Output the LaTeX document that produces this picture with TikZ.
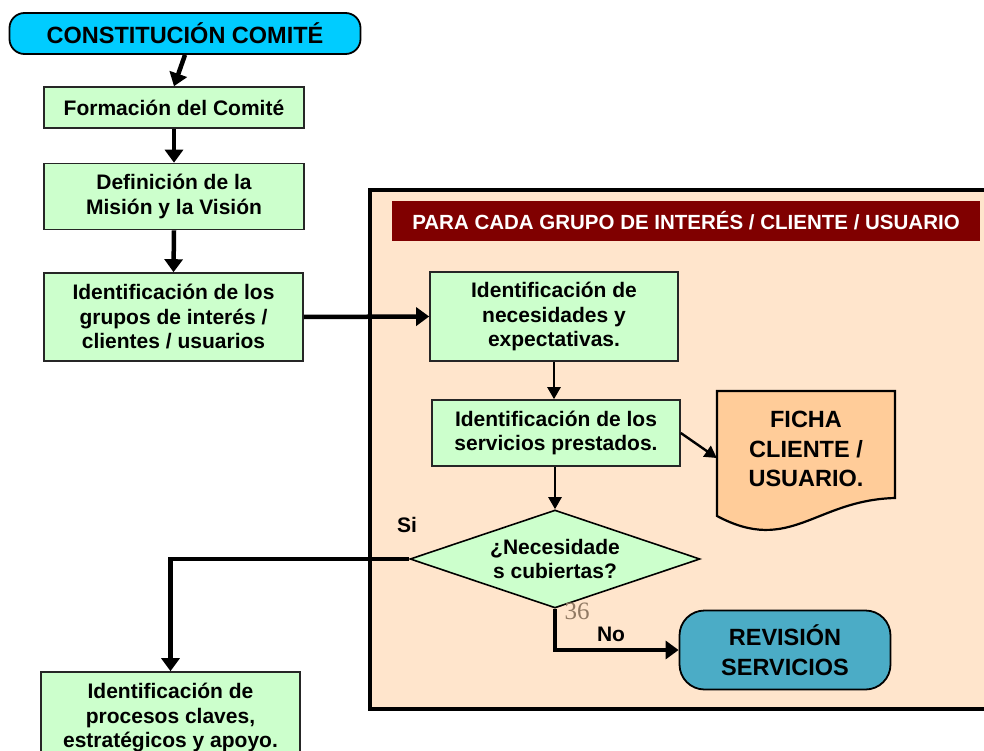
\documentclass[tikz,border=0pt]{standalone}
\usepackage{fontspec}
\setmainfont{Liberation Sans}
\newfontfamily\paginafont{Liberation Serif}
\usetikzlibrary{arrows.meta, shapes.geometric}
\definecolor{celeste}{HTML}{00CCFF}
\definecolor{verdeclaro}{HTML}{CCFFCC}
\definecolor{melocoton}{HTML}{FFE5CC}
\definecolor{granate}{HTML}{800000}
\definecolor{naranjaclaro}{HTML}{FFCC99}
\definecolor{azulrev}{HTML}{4BACC6}
\newcommand{\cajatxt}{\fontsize{21}{24.5}\selectfont\bfseries}
\newcommand{\grandetxt}{\fontsize{23.5}{29.5}\selectfont\bfseries}

\tikzset{
    cajaverde/.style={draw=black!85, line width=1.6pt, fill=verdeclaro, inner sep=0pt,
        align=center, font=\cajatxt},
    pildora/.style={draw=black, line width=1.8pt, rounded corners=15pt, inner sep=0pt,
        align=center, font=\grandetxt},
    flechagruesa/.style={line width=4.5pt, -{Triangle[length=13pt, width=18pt]}},
    flechafina/.style={line width=2.4pt, -{Triangle[length=12pt, width=13pt]}},
    etiqueta/.style={inner sep=0pt, font=\fontsize{21}{24}\selectfont\bfseries}
}

\begin{document}
\begin{tikzpicture}[x=1pt, y=-1pt]
    \clip (0,0) rectangle (984,751);
    \fill[white] (0,0) rectangle (984,751);

    % recuadro para cada grupo
    \draw[fill=melocoton, line width=4pt] (370,190) rectangle (998,709);
    \node[fill=granate, text=white, inner sep=0pt, minimum width=588pt, minimum height=40pt,
          font=\fontsize{20.5}{24}\selectfont\bfseries] (cabecera) at (686,221)
          {PARA CADA GRUPO DE INTERÉS / CLIENTE / USUARIO};

    \node[pildora, fill=celeste, minimum width=351pt, minimum height=41pt] (constitucion)
          at (185,33.5) {CONSTITUCIÓN COMITÉ};
    \node[cajaverde, minimum width=260pt, minimum height=41pt] (formacion) at (174,107.5)
          {Formación del Comité};
    \node[cajaverde, minimum width=260pt, minimum height=66pt] (mision) at (174,196.5)
          {Definición de la\\Misión y la Visión};
    \node[cajaverde, minimum width=259pt, minimum height=88pt] (grupos) at (173.5,317)
          {Identificación de los\\grupos de interés /\\clientes / usuarios};
    \node[cajaverde, minimum width=259pt, minimum height=92pt] (procesos) at (170.5,718)
          {Identificación de\\procesos claves,\\estratégicos y apoyo.};

    \node[cajaverde, minimum width=248pt, minimum height=89pt] (necesidades) at (554,316.5)
          {Identificación de\\necesidades y\\expectativas.};
    \node[cajaverde, minimum width=248pt, minimum height=66pt] (servicios) at (556,433)
          {Identificación de los\\servicios prestados.};

    % ficha (documento)
    \draw[fill=naranjaclaro, line width=2.2pt] (717,391) -- (895,391) -- (895,498)
          .. controls (815,500) and (790,555) .. (717,516) -- cycle;
    \node[inner sep=0pt, minimum width=178pt, align=center, font=\grandetxt] (ficha)
          at (806,449) {FICHA\\CLIENTE /\\USUARIO.};

    \node[diamond, draw=black, line width=1.6pt, fill=verdeclaro, aspect=2.96, inner sep=0pt,
          minimum width=290pt, minimum height=98pt, align=center, font=\cajatxt] (cubiertas)
          at (555,559) {¿Necesidade\\s cubiertas?};

    \node[pildora, fill=azulrev, rounded corners=25pt, minimum width=211pt, minimum height=79pt,
          font=\fontsize{23.5}{30}\selectfont\bfseries] (revision) at (785,650)
          {REVISIÓN\\SERVICIOS};

    \node[etiqueta] (si) at (407,525) {Si};
    \node[etiqueta] (no) at (611,634) {No};
    \node[inner sep=0pt, text=black!50!brown!70, font=\paginafont\fontsize{25}{28}\selectfont]
          (pagina) at (577,611) {36};

    \draw[flechagruesa] (constitucion.south) -- (formacion.north);
    \draw[flechagruesa] (formacion.south) -- (mision.north);
    \draw[flechagruesa] (mision.south) -- (grupos.north);
    \draw[flechagruesa] (grupos.east) -- (necesidades.west);
    \draw[flechafina] (necesidades.south) -- (necesidades.south |- servicios.north);
    \draw[flechafina] (servicios.east) -- ([yshift=-9pt]ficha.west);
    \draw[flechafina] (cubiertas.north |- servicios.south) -- (cubiertas.north);
    \draw[flechagruesa] (cubiertas.west) -| (procesos.north);
    \draw[flechagruesa] (cubiertas.south) |- (revision.west);
\end{tikzpicture}
\end{document}
